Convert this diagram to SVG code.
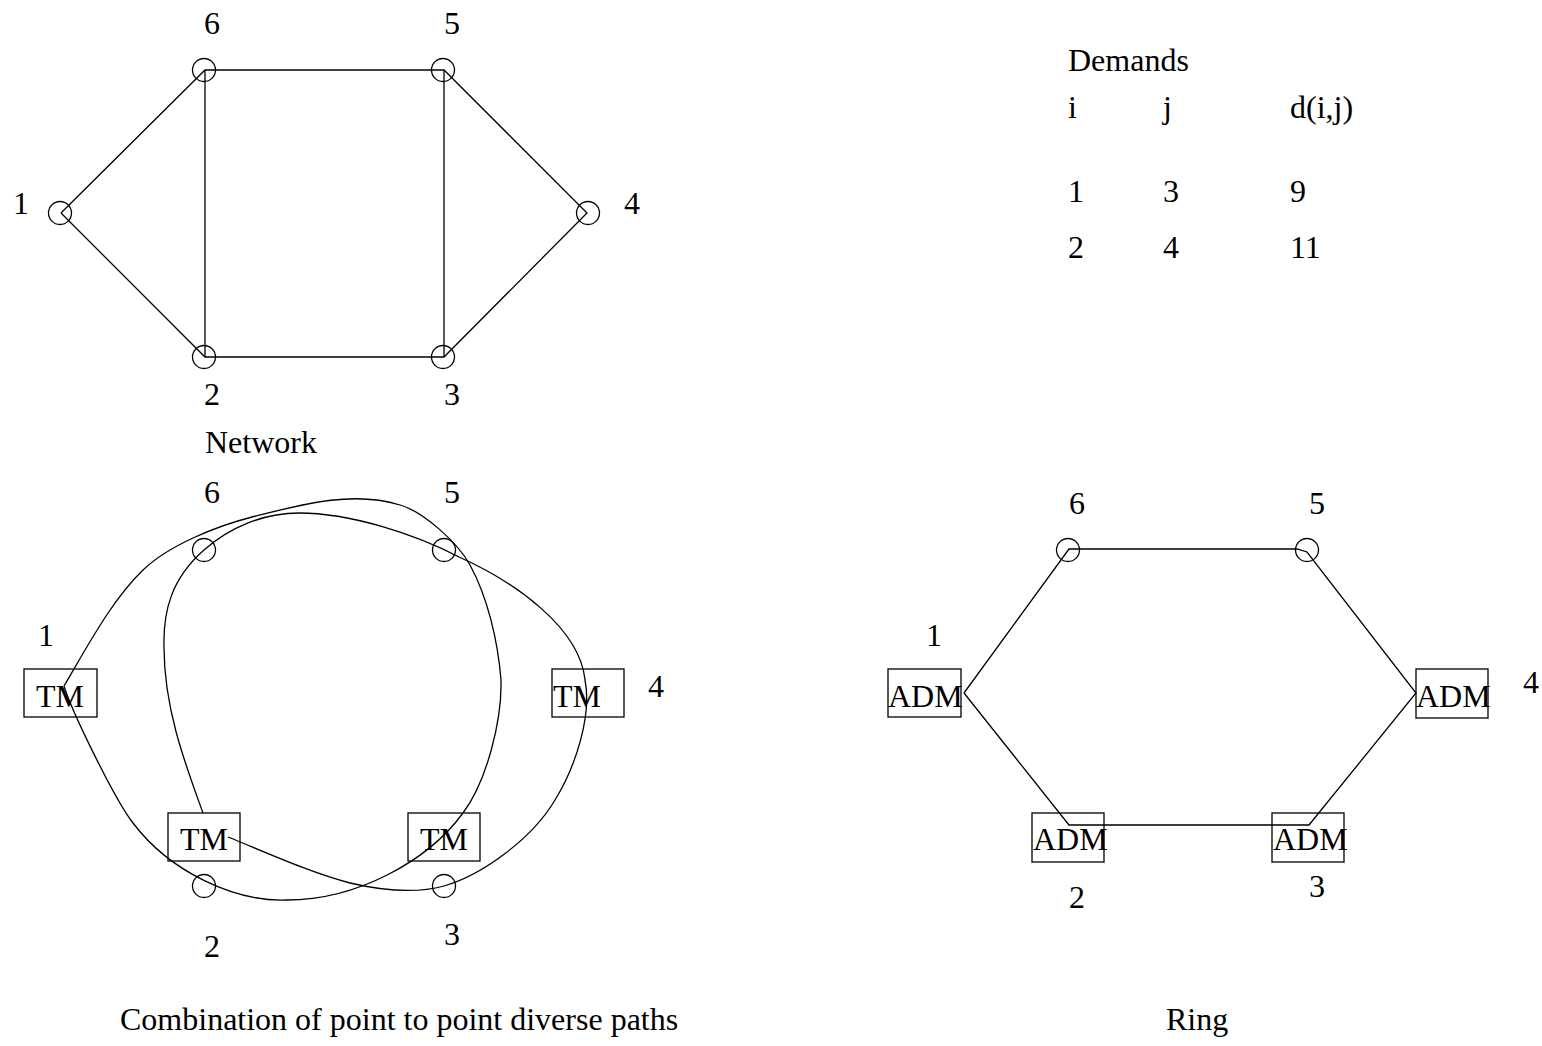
<svg xmlns="http://www.w3.org/2000/svg" width="1542" height="1046" viewBox="0 0 1542 1046">
  <style>
    text { font-family: "Liberation Serif", "Times New Roman", serif; font-size: 32px; fill: #000; }
    .n { fill: none; stroke: #000; stroke-width: 1.3; }
    .box { fill: none; stroke: #000; stroke-width: 1.3; }
    .e { fill: none; stroke: #000; stroke-width: 1.3; stroke-linejoin: miter; }
  </style>
  <rect width="1542" height="1046" fill="#fff"/>

  <!-- ===== Network (top left) ===== -->
  <g id="net-edges">
    <polyline class="e" points="61,213 205,70 444,70 587,213 444,357 205,357 61,213"/>
    <line class="e" x1="205" y1="70" x2="205" y2="357"/>
    <line class="e" x1="444" y1="70" x2="444" y2="357"/>
  </g>
  <g id="net-1"><circle class="n" cx="60" cy="213" r="11.5"/><text x="13" y="214">1</text></g>
  <g id="net-2"><circle class="n" cx="204" cy="357" r="11.5"/><text x="204" y="405">2</text></g>
  <g id="net-3"><circle class="n" cx="443" cy="357" r="11.5"/><text x="444" y="405">3</text></g>
  <g id="net-4"><circle class="n" cx="588" cy="213" r="11.5"/><text x="624" y="214">4</text></g>
  <g id="net-5"><circle class="n" cx="443" cy="70" r="11.5"/><text x="444" y="34">5</text></g>
  <g id="net-6"><circle class="n" cx="204" cy="70" r="11.5"/><text x="204" y="34">6</text></g>
  <text id="net-caption" x="205" y="453">Network</text>

  <!-- ===== Demand table (top right) ===== -->
  <g id="demands">
    <text x="1068" y="71">Demands</text>
    <text x="1068" y="118">i</text>
    <text x="1163" y="118">j</text>
    <text x="1290" y="118">d(i,j)</text>
    <text x="1068" y="202">1</text>
    <text x="1163" y="202">3</text>
    <text x="1290" y="202">9</text>
    <text x="1068" y="258">2</text>
    <text x="1163" y="258">4</text>
    <text x="1290" y="258">11</text>
  </g>

  <!-- ===== Point-to-point diverse paths (bottom left) ===== -->
  <g id="p2p-paths">
    <!-- demand 1-3: both routes form one loop through TM1 and TM3 -->
    <path class="e" d="M64,686 C91,640 113,599 143,570 C169,545 217,526 252,517 C300,505 352,490 400,505 C424,512 458,543 470,565 C488,598 498,642 501,680 C502,720 487,781 463,813 C428,861 357,900 287,900 C235,902 170,872 133,823 C115,800 72,712 64,686"/>
    <!-- demand 2-4: both routes form one loop through TM2 and TM4 -->
    <path class="e" d="M203,813 C184,761 164,707 164,647 C163,610 172,578 204,550 C230,527 264,513 299,513 C350,513 415,534 459,557 C515,582 580,628 585,680 C592,715 576,766 555,800 C532,839 482,875 444,886 C415,894 380,890 350,883 C311,873 265,852 228,837"/>
  </g>
  <g id="p2p-1"><rect class="box" x="24" y="669" width="73" height="48"/><text x="36" y="707">TM</text><text x="38" y="646">1</text></g>
  <g id="p2p-2"><rect class="box" x="168" y="813" width="72" height="48"/><text x="180" y="850">TM</text><circle class="n" cx="204" cy="886" r="11.5"/><text x="204" y="957">2</text></g>
  <g id="p2p-3"><rect class="box" x="408" y="813" width="72" height="48"/><text x="420" y="850">TM</text><circle class="n" cx="444" cy="886" r="11.5"/><text x="444" y="945">3</text></g>
  <g id="p2p-4"><rect class="box" x="552" y="669" width="72" height="48"/><text x="553" y="707">TM</text><text x="648" y="697">4</text></g>
  <g id="p2p-5"><circle class="n" cx="444" cy="550" r="11.5"/><text x="444" y="503">5</text></g>
  <g id="p2p-6"><circle class="n" cx="204" cy="550" r="11.5"/><text x="204" y="503">6</text></g>
  <text id="p2p-caption" x="120" y="1030">Combination of point to point diverse paths</text>

  <!-- ===== Ring (bottom right) ===== -->
  <g id="ring-edges">
    <polyline class="e" points="964,693 1069,549 1297,549 1307,552 1416,693 1309,825 1069,825 964,693"/>
  </g>
  <g id="ring-1"><rect class="box" x="888" y="669" width="73" height="48"/><text x="888" y="707">ADM</text><text x="926" y="646">1</text></g>
  <g id="ring-2"><rect class="box" x="1032" y="813" width="72" height="49"/><text x="1033" y="850">ADM</text><text x="1069" y="908">2</text></g>
  <g id="ring-3"><rect class="box" x="1272" y="813" width="72" height="49"/><text x="1273" y="850">ADM</text><text x="1309" y="897">3</text></g>
  <g id="ring-4"><rect class="box" x="1416" y="669" width="72" height="49"/><text x="1416" y="707">ADM</text><text x="1523" y="693">4</text></g>
  <g id="ring-5"><circle class="n" cx="1307" cy="550" r="11.5"/><text x="1309" y="514">5</text></g>
  <g id="ring-6"><circle class="n" cx="1068" cy="550" r="11.5"/><text x="1069" y="514">6</text></g>
  <text id="ring-caption" x="1166" y="1030">Ring</text>
</svg>
